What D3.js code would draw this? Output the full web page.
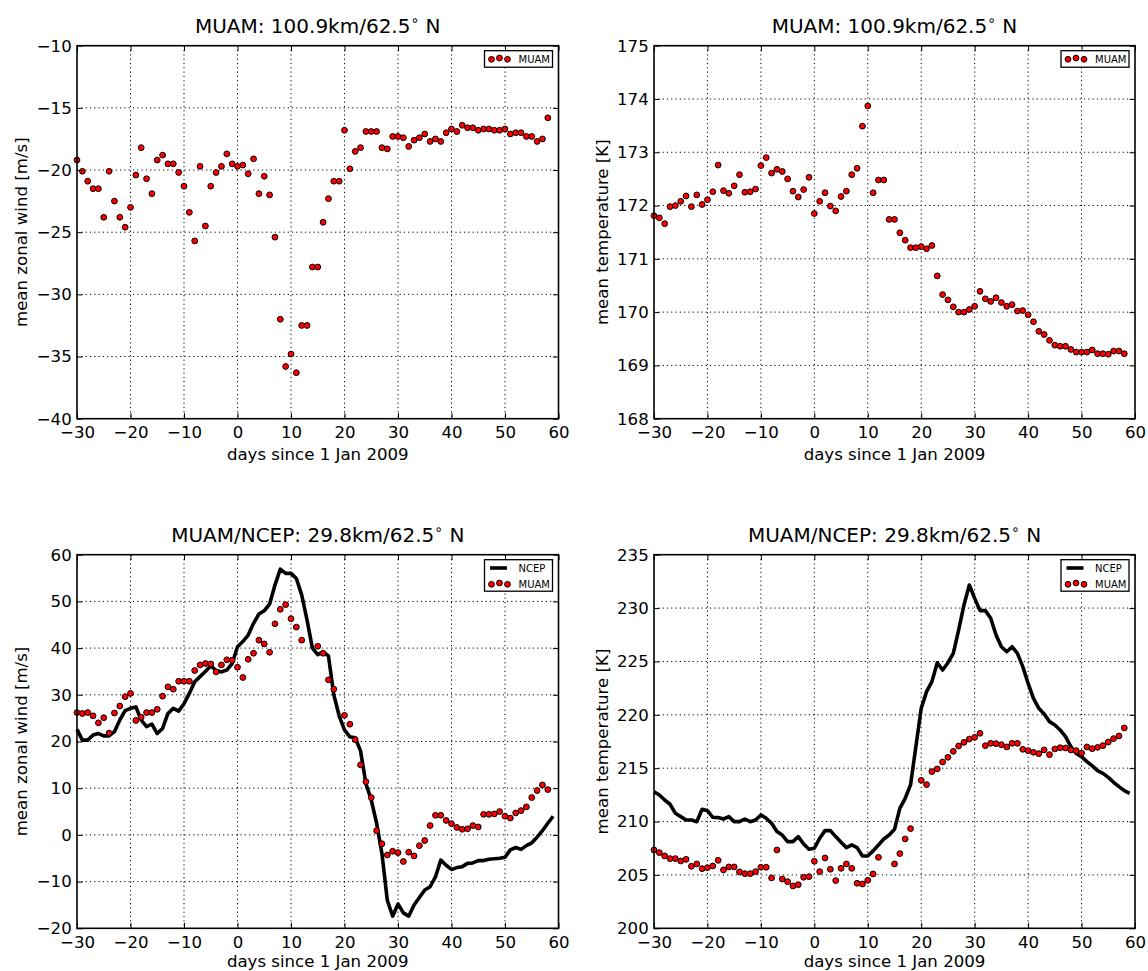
<!DOCTYPE html>
<html>
<head>
<meta charset="utf-8">
<script src="https://cdn.jsdelivr.net/npm/d3@7"></script>
<style>
  html, body { margin: 0; padding: 0; background: #fff; }
  svg { display: block; font-family: "DejaVu Sans", sans-serif; }
</style>
</head>
<body>
<svg id="chart" width="1148" height="971"></svg>
<script>
// ---------------- data ----------------
const daysTop = d3.range(-30, 59);            // -30 .. 58
const daysLow = d3.range(-30, 59).filter(d => d !== 13 && d !== 14 && d !== 19);
const daysNcep = d3.range(-30, 60);           // -30 .. 59

const windTopMuam = [
  -19.2,-20.1,-20.9,-21.5,-21.5,-23.8,-20.1,-22.5,-23.8,-24.6,
  -23.0,-20.4,-18.2,-20.7,-21.9,-19.2,-18.8,-19.5,-19.5,-20.2,
  -21.3,-23.4,-25.7,-19.7,-24.5,-21.3,-20.2,-19.7,-18.7,-19.5,
  -19.7,-19.6,-20.3,-19.1,-21.9,-20.5,-22.0,-25.4,-32.0,-35.8,
  -34.8,-36.3,-32.5,-32.5,-27.8,-27.8,-24.2,-22.3,-20.9,-20.9,
  -16.8,-19.9,-18.5,-18.2,-16.9,-16.9,-16.9,-18.2,-18.3,-17.3,
  -17.3,-17.4,-18.1,-17.6,-17.4,-17.1,-17.7,-17.5,-17.7,-17.0,
  -16.7,-16.9,-16.4,-16.6,-16.6,-16.8,-16.7,-16.7,-16.8,-16.8,
  -16.7,-17.1,-17.0,-17.0,-17.3,-17.3,-17.7,-17.5,-15.8
];

const tempTopMuam = [
  171.81,171.77,171.66,171.98,172.00,172.08,172.18,171.98,172.20,172.02,
  172.11,172.26,172.76,172.28,172.23,172.37,172.58,172.25,172.26,172.31,
  172.75,172.90,172.61,172.68,172.64,172.50,172.27,172.16,172.30,172.53,
  171.85,172.08,172.24,171.99,171.90,172.17,172.27,172.58,172.70,173.49,
  173.87,172.24,172.48,172.48,171.74,171.74,171.49,171.35,171.21,171.21,
  171.23,171.19,171.25,170.68,170.33,170.23,170.10,170.00,170.00,170.05,
  170.11,170.39,170.25,170.20,170.27,170.18,170.11,170.14,170.02,170.03,
  169.95,169.82,169.64,169.58,169.47,169.38,169.36,169.36,169.30,169.25,
  169.25,169.25,169.29,169.22,169.22,169.21,169.27,169.27,169.22
];

const windLowMuam = [
  26.2,26.0,26.2,25.5,24.0,25.1,21.8,26.1,27.6,29.6,
  30.3,24.5,25.2,26.2,26.2,26.9,29.7,31.7,31.2,32.9,
  32.9,32.9,35.2,36.4,36.7,36.6,34.9,36.4,37.5,37.4,
  35.9,33.7,37.6,38.9,41.7,40.9,39.1,45.2,48.3,49.3,
  46.3,44.5,41.7,
  40.4,38.9,33.2,31.2,
  25.6,23.7,20.4,15.0,11.4,8.0,0.9,-1.9,-4.3,-3.5,
  -3.8,-5.7,-3.7,-4.5,-2.3,-1.2,2.0,4.2,4.2,3.1,
  2.4,1.6,1.2,1.3,2.0,1.7,4.4,4.4,4.5,5.0,
  4.0,3.6,4.7,5.2,6.0,8.0,9.5,10.7,9.7
];

const windLowNcep = [
  22.6,20.3,20.3,21.4,21.7,21.2,21.2,22.1,24.6,26.6,
  27.1,27.4,24.6,23.2,23.7,21.7,22.8,26.0,27.1,26.5,
  28.1,30.3,32.8,33.9,35.0,36.2,35.2,34.9,35.3,36.7,
  40.3,41.4,42.8,45.3,47.3,48.0,49.4,53.5,56.9,56.0,
  56.0,54.9,51.4,46.0,40.0,38.6,39.2,38.3,30.0,25.5,
  22.5,21.0,20.8,18.0,11.0,7.5,2.5,-4.0,-14.0,-17.4,
  -14.8,-16.7,-17.4,-15.0,-13.4,-11.8,-11.1,-9.0,-5.4,-6.5,
  -7.4,-7.0,-6.8,-6.1,-6.0,-5.5,-5.5,-5.2,-5.1,-5.0,
  -4.8,-3.2,-2.7,-3.1,-2.3,-1.7,-0.5,0.9,2.5,4.0
];

const tempLowMuam = [
  207.34,207.09,206.78,206.53,206.53,206.31,206.46,205.81,206.03,205.59,
  205.68,205.84,206.37,205.47,205.75,205.75,205.28,205.12,205.12,205.31,
  205.72,205.72,204.72,207.34,204.62,204.37,203.97,204.09,204.78,204.84,
  206.28,205.31,206.59,205.53,204.47,205.62,206.03,205.62,204.22,204.15,
  204.50,205.09,206.65,
  206.03,207.00,208.37,209.34,
  213.86,213.46,214.68,214.93,215.58,216.02,216.58,217.08,217.42,217.73,
  217.89,218.27,217.11,217.33,217.30,217.20,216.99,217.33,217.33,216.77,
  216.64,216.49,216.36,216.71,216.27,216.80,216.92,216.89,216.71,216.64,
  216.42,216.99,216.83,216.95,217.11,217.45,217.77,218.02,218.77
];

const tempLowNcep = [
  212.80,212.49,212.02,211.62,210.77,210.46,210.15,210.15,209.99,211.15,
  211.02,210.40,210.37,210.24,210.46,209.99,209.99,210.24,209.99,210.15,
  210.62,210.30,209.84,209.06,208.74,208.12,208.12,208.59,207.90,207.40,
  207.50,208.43,209.15,209.15,208.59,208.06,207.56,207.81,207.56,206.78,
  206.78,207.25,207.81,208.37,208.74,209.27,211.24,212.18,213.43,217.02,
  220.61,222.17,223.11,224.88,224.20,224.88,225.76,227.94,230.29,232.16,
  230.91,229.76,229.76,229.04,227.48,226.38,225.91,226.38,225.76,224.51,
  222.95,221.54,220.61,220.08,219.36,219.05,218.58,217.95,217.02,216.39,
  216.08,215.61,215.21,214.77,214.52,214.14,213.68,213.27,212.90,212.65
];

const xTicks = [-30, -20, -10, 0, 10, 20, 30, 40, 50, 60];
const yTicksWindTop = [-40, -35, -30, -25, -20, -15, -10];
const yTicksTempTop = [168, 169, 170, 171, 172, 173, 174, 175];
const yTicksWindLow = [-20, -10, 0, 10, 20, 30, 40, 50, 60];
const yTicksTempLow = [200, 205, 210, 215, 220, 225, 230, 235];

const titleTop = ["MUAM: 100.9km/62.5", " N"];
const titleLow = ["MUAM/NCEP: 29.8km/62.5", " N"];
const xLabel = "days since 1 Jan 2009";
const yLabelWind = "mean zonal wind [m/s]";
const yLabelTemp = "mean temperature [K]";

// ---------------- layout ----------------
const svg = d3.select("#chart");
const FS = 16.6;

const panels = [
  { x0: 77,  x1: 558.5, y0: 45.7,  y1: 418.7, yDom: [-40, -10], yTicks: yTicksWindTop, title: titleTop,
    ylabel: yLabelWind, ylabX: 27, xlabDy: 41.5, muamDays: daysTop, muam: windTopMuam, ncep: null },
  { x0: 654, x1: 1135,  y0: 45.7,  y1: 418.7, yDom: [168, 175], yTicks: yTicksTempTop, title: titleTop,
    ylabel: yLabelTemp, ylabX: 608, xlabDy: 41.5, muamDays: daysTop, muam: tempTopMuam, ncep: null },
  { x0: 77,  x1: 558.5, y0: 554.7, y1: 928.3, yDom: [-20, 60], yTicks: yTicksWindLow, title: titleLow,
    ylabel: yLabelWind, ylabX: 27, xlabDy: 38.3, muamDays: daysLow, muam: windLowMuam, ncep: windLowNcep },
  { x0: 654, x1: 1135,  y0: 554.7, y1: 928.3, yDom: [200, 235], yTicks: yTicksTempLow, title: titleLow,
    ylabel: yLabelTemp, ylabX: 608, xlabDy: 38.3, muamDays: daysLow, muam: tempLowMuam, ncep: tempLowNcep }
];

const TICK = 5.5;
const R = 2.9;

panels.forEach(p => {
  const x = d3.scaleLinear().domain([-30, 60]).range([p.x0, p.x1]);
  const y = d3.scaleLinear().domain(p.yDom).range([p.y1, p.y0]);
  const g = svg.append("g");

  // grid
  const grid = g.append("g").attr("stroke", "#000").attr("stroke-width", 1)
    .attr("stroke-dasharray", "1.2,3.1").attr("fill", "none");
  xTicks.slice(1, -1).forEach(t => {
    grid.append("line").attr("x1", x(t)).attr("x2", x(t)).attr("y1", p.y0).attr("y2", p.y1);
  });
  p.yTicks.slice(1, -1).forEach(t => {
    grid.append("line").attr("x1", p.x0).attr("x2", p.x1).attr("y1", y(t)).attr("y2", y(t));
  });

  // NCEP line
  if (p.ncep) {
    const line = d3.line().x((d, i) => x(daysNcep[i])).y(d => y(d));
    g.append("path").datum(p.ncep).attr("d", line)
      .attr("fill", "none").attr("stroke", "#000").attr("stroke-width", 3.6)
      .attr("stroke-linejoin", "round").attr("stroke-linecap", "butt");
  }

  // MUAM markers
  g.append("g").selectAll("circle").data(p.muam).join("circle")
    .attr("cx", (d, i) => x(p.muamDays[i])).attr("cy", d => y(d)).attr("r", R)
    .attr("fill", "#ff0000").attr("stroke", "#000").attr("stroke-width", 1);

  // axes
  const fmt = d3.format("d");
  const ax = g.append("g").attr("transform", `translate(0,${p.y1})`)
    .call(d3.axisBottom(x).tickValues(xTicks).tickSize(-TICK).tickPadding(8).tickFormat(fmt));
  const ay = g.append("g").attr("transform", `translate(${p.x0},0)`)
    .call(d3.axisLeft(y).tickValues(p.yTicks).tickSize(-TICK).tickPadding(5.3).tickFormat(fmt));
  const at = g.append("g").attr("transform", `translate(0,${p.y0})`)
    .call(d3.axisTop(x).tickValues(xTicks).tickSize(-TICK).tickFormat(""));
  const ar = g.append("g").attr("transform", `translate(${p.x1},0)`)
    .call(d3.axisRight(y).tickValues(p.yTicks).tickSize(-TICK).tickFormat(""));
  [ax, ay, at, ar].forEach(a => {
    a.select(".domain").remove();
    a.selectAll(".tick line").attr("stroke", "#000").attr("stroke-width", 1);
    a.selectAll("text").attr("font-size", FS).attr("fill", "#000")
      .attr("font-family", "DejaVu Sans, sans-serif");
  });

  // spines
  g.append("rect").attr("x", p.x0).attr("y", p.y0)
    .attr("width", p.x1 - p.x0).attr("height", p.y1 - p.y0)
    .attr("fill", "none").attr("stroke", "#000").attr("stroke-width", 1.6);

  // title
  const cx = (p.x0 + p.x1) / 2;
  const tt = g.append("text").attr("x", cx).attr("y", p.y0 - 13)
    .attr("text-anchor", "middle").attr("font-size", 20);
  tt.append("tspan").text(p.title[0]);
  tt.append("tspan").attr("dy", -8).attr("font-size", 14).text("\u2218");
  tt.append("tspan").attr("dy", 8).text(p.title[1]);

  // x label
  g.append("text").attr("x", cx).attr("y", p.y1 + p.xlabDy).attr("text-anchor", "middle")
    .attr("font-size", FS).text(xLabel);

  // y label
  g.append("text").attr("transform", `translate(${p.ylabX},${(p.y0 + p.y1) / 2}) rotate(-90)`)
    .attr("text-anchor", "middle").attr("font-size", FS).text(p.ylabel);

  // legend
  const entries = p.ncep ? ["NCEP", "MUAM"] : ["MUAM"];
  const lx = p.x1 - 74, ly = p.y0 + 5;
  const lh = entries.length === 1 ? 16.5 : 31.5;
  const lg = g.append("g");
  lg.append("rect").attr("x", lx).attr("y", ly).attr("width", 68).attr("height", lh)
    .attr("fill", "#fff").attr("stroke", "#000").attr("stroke-width", 1.3);
  entries.forEach((name, i) => {
    const cy = ly + 8.3 + i * 16;
    if (name === "NCEP") {
      lg.append("line").attr("x1", lx + 5.5).attr("x2", lx + 22.5).attr("y1", cy).attr("y2", cy)
        .attr("stroke", "#000").attr("stroke-width", 3.6);
    } else {
      [7, 15, 23].forEach((dx, k) => {
        lg.append("circle").attr("cx", lx + dx).attr("cy", cy + (k === 1 ? -1 : 0.3)).attr("r", R)
          .attr("fill", "#ff0000").attr("stroke", "#000").attr("stroke-width", 1);
      });
    }
    lg.append("text").attr("x", lx + 34).attr("y", cy + 3.6).attr("font-size", 10).text(name);
  });
});
</script>
</body>
</html>
